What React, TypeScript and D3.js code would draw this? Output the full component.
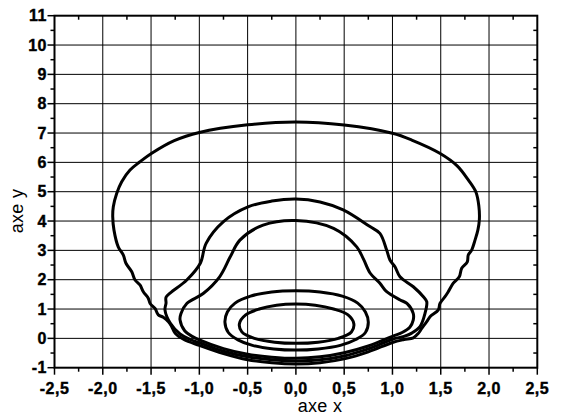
import React from "react";
import * as d3 from "d3";

const W = 563;
const H = 418;

const xTicks = [-2.5, -2.0, -1.5, -1.0, -0.5, 0.0, 0.5, 1.0, 1.5, 2.0, 2.5];
const xTickLabels = ["-2,5", "-2,0", "-1,5", "-1,0", "-0,5", "0,0", "0,5", "1,0", "1,5", "2,0", "2,5"];
const yTicks = [-1, 0, 1, 2, 3, 4, 5, 6, 7, 8, 9, 10, 11];
const yTickLabels = ["-1", "0", "1", "2", "3", "4", "5", "6", "7", "8", "9", "10", "11"];

const contourOuter: [number, number][] = [
  [0, 7.38], [-0.5, 7.28], [-1.0, 7.02], [-1.26, 6.74], [-1.493, 6.31], [-1.615, 6.02],
  [-1.718, 5.74], [-1.804, 5.34], [-1.856, 4.94], [-1.891, 4.49], [-1.897, 4.15], [-1.884, 3.69],
  [-1.84, 3.12], [-1.787, 2.84],
  [-1.76, 2.56], [-1.7, 2.27], [-1.666, 1.99], [-1.615, 1.82], [-1.58, 1.59], [-1.529, 1.37],
  [-1.51, 1.19], [-1.459, 1.02], [-1.425, 0.8], [-1.374, 0.72], [-1.32, 0.57], [-1.286, 0.4],
  [-1.25, 0.17], [-1.16, -0.04], [-1.0, -0.24], [-0.75, -0.52], [-0.5, -0.73], [-0.25, -0.83],
  [0, -0.87], [0.25, -0.83], [0.5, -0.7], [0.75, -0.46], [1.0, -0.14], [1.12, -0.04],
  [1.216, 0.02], [1.268, 0.17], [1.303, 0.34], [1.355, 0.57], [1.389, 0.74], [1.475, 0.97],
  [1.492, 1.19], [1.544, 1.42], [1.578, 1.59], [1.63, 1.88], [1.692, 2.1], [1.717, 2.39],
  [1.775, 2.61], [1.785, 2.84], [1.82, 3.01], [1.855, 3.35], [1.885, 3.7], [1.9, 4.05],
  [1.895, 4.5], [1.865, 4.98], [1.785, 5.4], [1.67, 5.88], [1.49, 6.31], [1.2, 6.76],
  [1.0, 6.99], [0.5, 7.27],
];

const contour2: [number, number][] = [
  [0, 4.75], [-0.25, 4.68], [-0.49, 4.49], [-0.75, 3.98], [-0.93, 3.24], [-0.99, 2.56],
  [-1.13, 1.99], [-1.3, 1.55], [-1.345, 1.4], [-1.345, 1.2], [-1.356, 0.97], [-1.3, 0.51],
  [-1.2, 0.15], [-1.1, -0.03], [-1.0, -0.15], [-0.75, -0.44], [-0.5, -0.63], [-0.25, -0.73],
  [0, -0.77], [0.25, -0.73], [0.5, -0.6], [0.75, -0.36], [1.0, -0.03], [1.12, 0.07],
  [1.2, 0.18], [1.285, 0.4], [1.337, 0.85], [1.355, 1.25], [1.32, 1.42], [1.216, 1.76],
  [1.078, 2.1], [1.026, 2.44], [0.974, 2.67], [0.94, 3.01], [0.87, 3.58], [0.767, 3.81],
  [0.49, 4.38], [0.25, 4.65],
];

const contour3: [number, number][] = [
  [0, 4.02], [-0.34, 3.86], [-0.58, 3.35], [-0.68, 2.78], [-0.79, 2.1], [-0.96, 1.53],
  [-1.13, 1.19], [-1.19, 0.85], [-1.2, 0.63], [-1.15, 0.25], [-1.07, 0.06], [-1.0, -0.05],
  [-0.75, -0.35], [-0.5, -0.54], [-0.25, -0.64], [0, -0.68], [0.25, -0.63], [0.5, -0.49],
  [0.75, -0.26], [1.0, 0.07], [1.1, 0.2], [1.18, 0.38], [1.215, 0.62], [1.215, 0.85],
  [1.15, 1.19], [1.08, 1.31], [0.94, 1.59], [0.87, 1.88], [0.77, 2.22], [0.7, 2.7],
  [0.63, 3.12], [0.39, 3.75],
];

const contour4: [number, number][] = [
  [0, 1.62], [-0.25, 1.58], [-0.47, 1.44], [-0.63, 1.2], [-0.71, 0.9], [-0.735, 0.55],
  [-0.7, 0.2], [-0.6, -0.05], [-0.45, -0.24], [-0.23, -0.36], [0, -0.4], [0.23, -0.36],
  [0.46, -0.24], [0.62, -0.04], [0.72, 0.2], [0.75, 0.55], [0.72, 0.9], [0.64, 1.2],
  [0.48, 1.44], [0.25, 1.58],
];

const contour5: [number, number][] = [
  [0, 1.17], [-0.2, 1.13], [-0.38, 1.0], [-0.52, 0.8], [-0.585, 0.5], [-0.56, 0.22],
  [-0.43, 0.0], [-0.22, -0.13], [0, -0.17], [0.23, -0.13], [0.44, 0.0], [0.575, 0.22],
  [0.6, 0.5], [0.54, 0.8], [0.39, 1.0], [0.2, 1.13],
];

const contours = [contourOuter, contour2, contour3, contour4, contour5];

const X0 = 54.5, X1 = 537.3, Y0 = 367.7, Y1 = 15.7;
const TICKFONT = "Liberation Sans, Arial, sans-serif";
const TITLEFONT = "Liberation Sans, Arial, sans-serif";

export default function App() {
  const x = d3.scaleLinear().domain([-2.5, 2.5]).range([X0, X1]);
  const y = d3.scaleLinear().domain([-1, 11]).range([Y0, Y1]);
  const line = d3
    .line<[number, number]>()
    .x((d) => x(d[0]))
    .y((d) => y(d[1]))
    .curve(d3.curveCatmullRomClosed.alpha(0.5));

  const xMinor = d3.range(-2.25, 2.5, 0.5);
  const yMinor = d3.range(-0.5, 11, 1);

  const tickStyle = { fontFamily: TICKFONT, fontWeight: "bold" as const, fontSize: "16px", letterSpacing: "0.5px" };

  return (
    <svg width={W} height={H} style={{ position: "absolute", left: 0, top: 0, background: "#fff" }}>
      <rect x={0} y={0} width={W} height={H} fill="#fff" />
      {xTicks.slice(1, -1).map((v) => (
        <line key={"gx" + v} x1={x(v)} x2={x(v)} y1={Y1} y2={Y0} stroke="#000" strokeWidth={1} />
      ))}
      {yTicks.slice(1, -1).map((v) => (
        <line key={"gy" + v} x1={X0} x2={X1} y1={y(v)} y2={y(v)} stroke="#000" strokeWidth={1} />
      ))}
      {contours.map((c, i) => (
        <path key={"c" + i} d={line(c) || ""} fill="none" stroke="#000" strokeWidth={3} strokeLinejoin="round" />
      ))}
      <rect x={X0} y={Y1} width={X1 - X0} height={Y0 - Y1} fill="none" stroke="#000" strokeWidth={2} />
      {xTicks.map((v) => (
        <line key={"bt" + v} x1={x(v)} x2={x(v)} y1={Y0} y2={Y0 + 7} stroke="#000" strokeWidth={1.5} />
      ))}
      {xMinor.map((v) => (
        <line key={"bm" + v} x1={x(v)} x2={x(v)} y1={Y0} y2={Y0 + 4} stroke="#000" strokeWidth={1.5} />
      ))}
      {xMinor.map((v) => (
        <line key={"tm" + v} x1={x(v)} x2={x(v)} y1={Y1} y2={Y1 + 4} stroke="#000" strokeWidth={1.5} />
      ))}
      {yTicks.map((v) => (
        <line key={"lt" + v} x1={X0 - 7} x2={X0} y1={y(v)} y2={y(v)} stroke="#000" strokeWidth={1.5} />
      ))}
      {yMinor.map((v) => (
        <line key={"lm" + v} x1={X0 - 4} x2={X0} y1={y(v)} y2={y(v)} stroke="#000" strokeWidth={1.5} />
      ))}
      {yMinor.map((v) => (
        <line key={"rm" + v} x1={X1 - 4} x2={X1} y1={y(v)} y2={y(v)} stroke="#000" strokeWidth={1.5} />
      ))}
      {xTicks.map((v, i) => (
        <text key={"xl" + v} x={x(v)} y={Y0 + 26} textAnchor="middle" style={tickStyle}
          fill="#000" stroke="#000" strokeWidth={0.4}>
          {xTickLabels[i]}
        </text>
      ))}
      {yTicks.map((v, i) => (
        <text key={"yl" + v} x={47} y={y(v) + 5.6} textAnchor="end" style={tickStyle}
          fill="#000" stroke="#000" strokeWidth={0.4}>
          {yTickLabels[i]}
        </text>
      ))}
      <text x={320} y={412} textAnchor="middle"
        style={{ fontFamily: TITLEFONT, fontSize: "18px", letterSpacing: "0.3px" }} fill="#000">
        axe x
      </text>
      <text transform="translate(23, 211) rotate(-90)" textAnchor="middle"
        style={{ fontFamily: TITLEFONT, fontSize: "18px", letterSpacing: "0.3px" }} fill="#000">
        axe y
      </text>
    </svg>
  );
}
